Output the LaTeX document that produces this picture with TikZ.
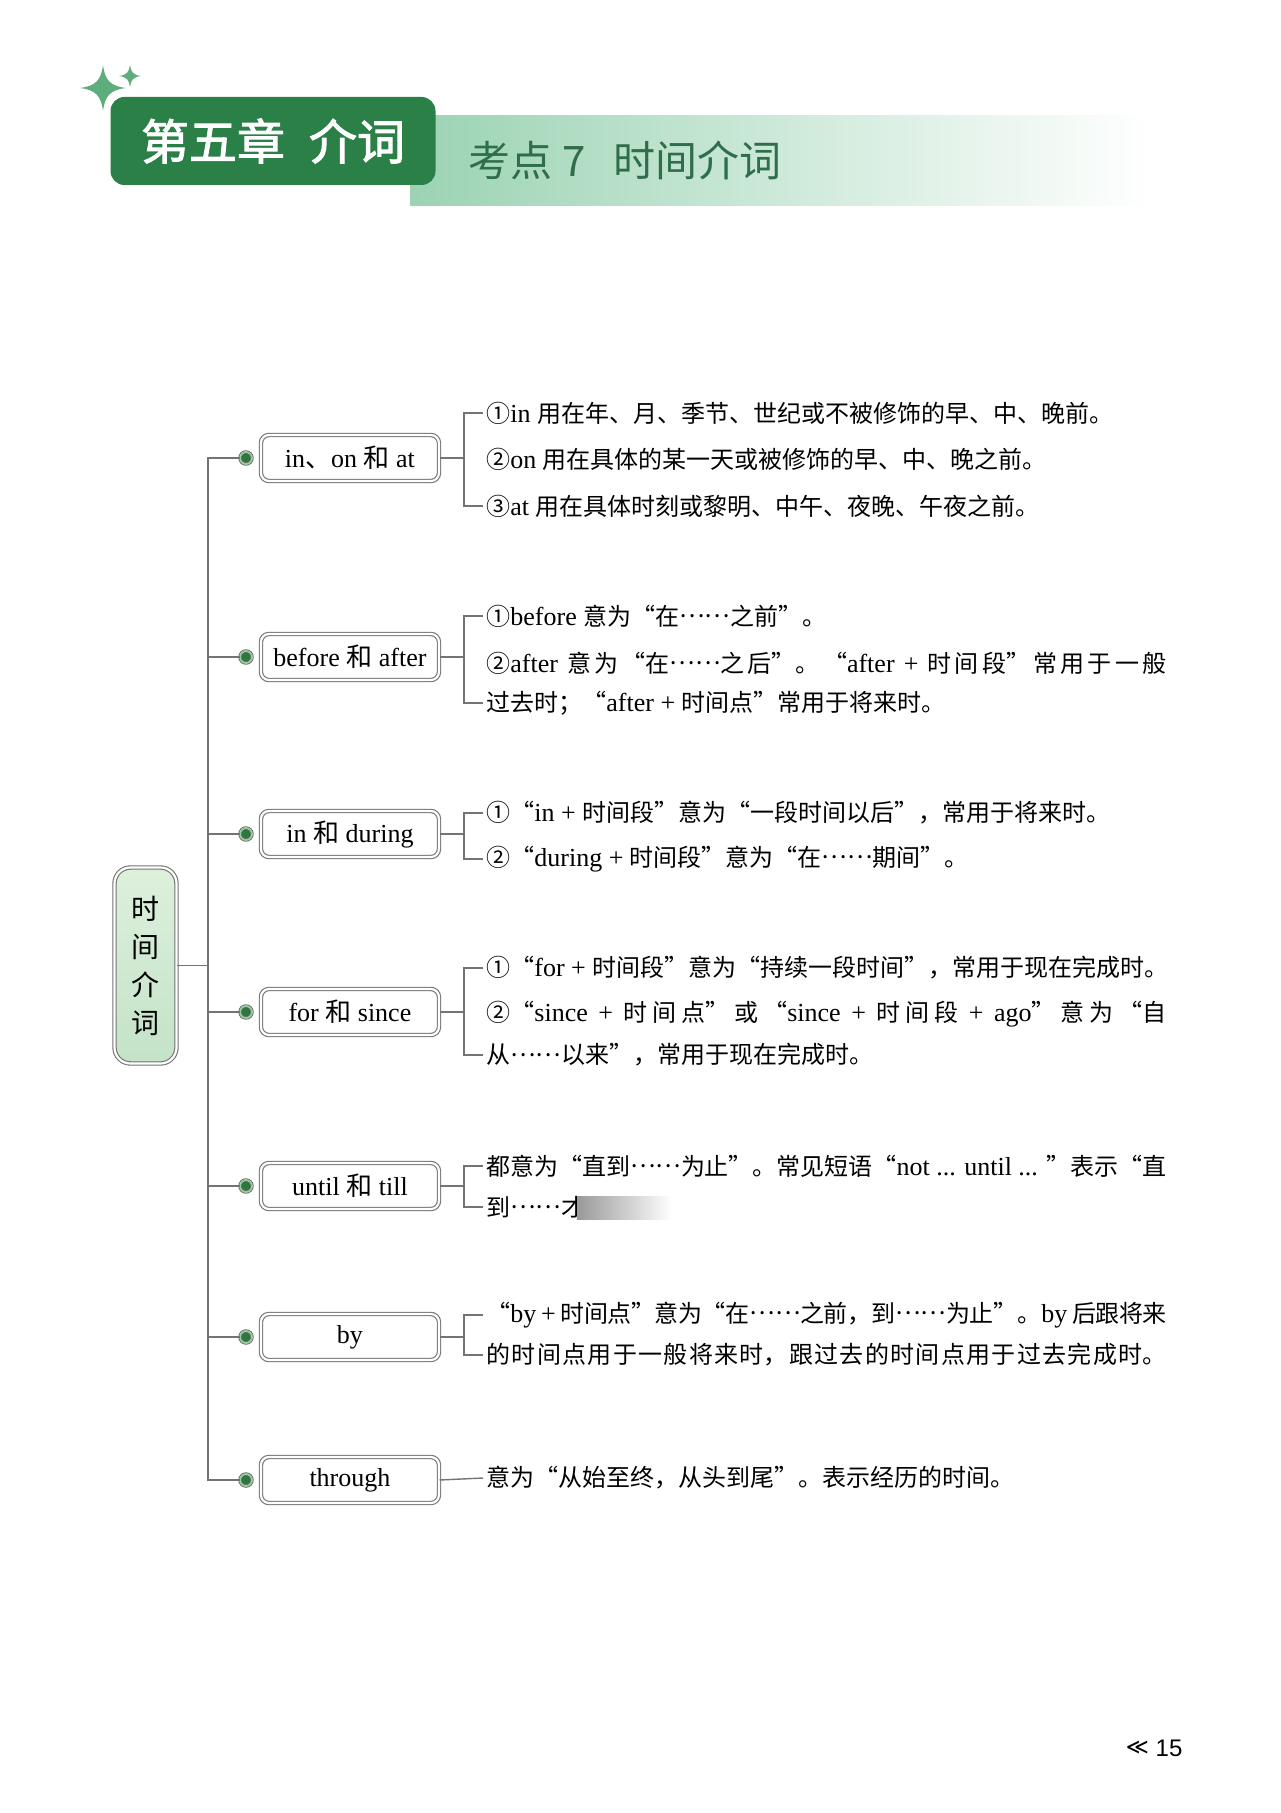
\documentclass[tikz,border=0pt]{standalone}
\usepackage{fontspec}
\setmainfont{Liberation Serif}
\newfontfamily\cjk{Noto Sans CJK SC}
\newfontfamily\cjkhead{Noto Sans CJK SC}[AutoFakeBold=2]
\newfontfamily\sans{Liberation Sans}
\newfontfamily\dejavu{DejaVu Sans}
\usetikzlibrary{positioning}
\XeTeXlinebreaklocale "zh"
\XeTeXlinebreakskip=0pt plus 2pt minus 0.4pt
\newcommand\en[1]{{\rmfamily\fontsize{13}{14}\selectfont #1}}
\newcommand\puntos{\raisebox{0.32em}{……}}
\definecolor{verdeoscuro}{HTML}{2A8046}
\definecolor{temaverde}{HTML}{2E6E4A}
\definecolor{bandaverde}{HTML}{9BD3B3}
\definecolor{destello}{HTML}{5DAE7C}
\definecolor{raizarriba}{HTML}{DDF0DC}
\definecolor{raizabajo}{HTML}{C3E3C8}
\definecolor{puntoverde}{HTML}{2B7A3D}
\definecolor{puntoclaro}{HTML}{9ACD9E}

\begin{document}
\begin{tikzpicture}[x=0.5pt, y=-0.5pt, node distance=4pt, every node/.style={inner sep=0pt},
  caja/.style={draw=black!55, double=white, double distance=1.1pt, line width=0.55pt, rounded corners=4pt,
    minimum width=89pt, minimum height=23pt, font=\rmfamily\fontsize{13}{15}\selectfont},
  raiz/.style={caja, rounded corners=8pt, top color=raizarriba, bottom color=raizabajo, minimum width=31pt,
    minimum height=98pt, align=center, font=\cjk\fontsize{14}{19}\selectfont},
  punto/.style={circle, draw=black!60, double=puntoclaro, double distance=0.9pt, line width=0.4pt,
    fill=puntoverde, minimum size=6pt},
  texto/.style={anchor=west, inner xsep=1.5pt, font=\cjk\fontsize{12}{14}\selectfont},
  lleno/.style={texto, text width=340pt, align=justify, execute at begin node={\parfillskip=0pt\relax}},
  linea/.style={draw=black!55, line width=0.7pt}]
\useasboundingbox[fill=white] (0,0) rectangle (1280,1813);
% cabecera
\shade[left color=bandaverde, right color=white] (410,116) rectangle (1150,206);
\fill[destello] (103,65) .. controls (105,80) and (110,86) .. (126,88) .. controls (110,90) and (105,96) .. (103,111)
  .. controls (101,96) and (96,90) .. (80,88) .. controls (96,86) and (101,80) .. (103,65) -- cycle;
\fill[destello] (130,65) .. controls (131,72) and (133,75) .. (141,76) .. controls (133,77) and (131,80) .. (130,87)
  .. controls (129,80) and (127,77) .. (119,76) .. controls (127,75) and (129,72) .. (130,65) -- cycle;
\node[fill=verdeoscuro, rounded corners=7pt, minimum width=162.5pt, minimum height=44pt, text=white,
  font=\cjkhead\bfseries\fontsize{24}{26}\selectfont] (cap) at (273,141) {第五章\hspace{12pt}介词};
\node[anchor=west, text=temaverde, font=\cjk\fontsize{21}{24}\selectfont] (tema) at (468,160)
  {考点\hspace{5pt}7\hspace{14pt}时间介词};
% mapa
\node[raiz] (r) at (145.5,965.5) {时\\间\\介\\词};
\coordinate (tr) at (208,0);
\coordinate (lv) at (464,0);
\node[punto] (d1) at (246,458) {};
\node[punto] (d2) at (246,657) {};
\node[punto] (d3) at (246,834) {};
\node[punto] (d4) at (246,1012) {};
\node[punto] (d5) at (246,1186) {};
\node[punto] (d6) at (246,1337) {};
\node[punto] (d7) at (246,1480) {};
\node[caja, right=of d1] (b1) {in{\cjk 、}on {\cjk 和} at};
\node[caja, right=of d2] (b2) {before {\cjk 和} after};
\node[caja, right=of d3] (b3) {in {\cjk 和} during};
\node[caja, right=of d4] (b4) {for {\cjk 和} since};
\node[caja, right=of d5] (b5) {until {\cjk 和} till};
\node[caja, right=of d6] (b6) {by};
\node[caja, right=of d7] (b7) {through};
\node[texto] (t11) at (483,413) {①\en{in }用在年、月、季节、世纪或不被修饰的早、中、晚前。};
\node[texto] (t12) at (483,459) {②\en{on }用在具体的某一天或被修饰的早、中、晚之前。};
\node[texto] (t13) at (483,506) {③\en{at }用在具体时刻或黎明、中午、夜晚、午夜之前。};
\node[texto] (t21) at (483,616) {①\en{before }意为“在\puntos 之前”。};
\node[lleno] (t22) at (483,663) {②\en{after }意为“在\puntos 之后”。“\en{after + }时间段”常用于一般};
\node[texto] (t23) at (483,703) {过去时；“\en{after + }时间点”常用于将来时。};
\node[texto] (t31) at (483,813) {①“\en{in + }时间段”意为“一段时间以后”，常用于将来时。};
\node[texto] (t32) at (483,859) {②“\en{during + }时间段”意为“在\puntos 期间”。};
\node[texto] (t41) at (483,968) {①“\en{for + }时间段”意为“持续一段时间”，常用于现在完成时。};
\node[lleno] (t42) at (483,1014) {②“\en{since + }时间点”或“\en{since + }时间段\en{ + ago}”意为“自};
\node[texto] (t43) at (483,1055) {从\puntos 以来”，常用于现在完成时。};
\node[lleno] (t51) at (483,1166) {都意为“直到\puntos 为止”。常见短语“\en{not ... until ... }”表示“直};
\node[texto] (t52) at (483,1207) {到\puntos 才};
\node[lleno] (t61) at (483,1315) {“\en{by + }时间点”意为“在\puntos 之前，到\puntos 为止”。\en{by }后跟将来};
\node[lleno] (t62) at (483,1355) {的时间点用于一般将来时，跟过去的时间点用于过去完成时。};
\node[texto] (t71) at (483,1478) {意为“从始至终，从头到尾”。表示经历的时间。};
\shade[left color=black!40, right color=white] (577,1196) rectangle (672,1219);
\draw[linea] (d1.west) -- (d1.west -| tr) -- (d7.west -| tr) -- (d7.west);
\foreach \i in {2,...,6} \draw[linea] (d\i.west) -- (d\i.west -| tr);
\draw[linea] (r.east) -- (r.east -| tr);
\foreach \i in {1,...,6} \draw[linea] (b\i.east) -- (b\i.east -| lv);
\draw[linea] (b7.east) -- (t71.west);
\foreach \a/\z in {11/13,21/23,31/32,41/43,51/52,61/62}
  \draw[linea] (t\a.west) -- (t\a.west -| lv) -- (t\z.west -| lv) -- (t\z.west);
\node[font=\sans\fontsize{12}{14}\selectfont] (pag) at (1169,1748) {15};
\node[font=\dejavu\fontsize{11}{13}\selectfont, left=3pt of pag] (flechas) {≪};
\end{tikzpicture}
\end{document}
